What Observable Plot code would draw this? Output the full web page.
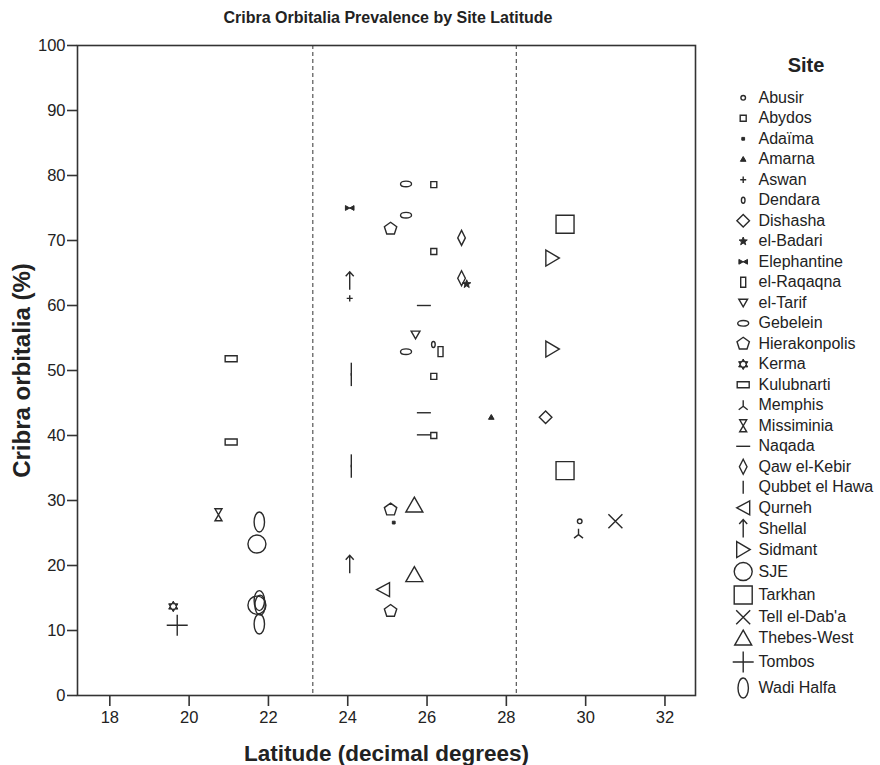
<!DOCTYPE html>
<html>
<head>
<meta charset="utf-8">
<script src="https://cdn.jsdelivr.net/npm/d3@7"></script>
<script src="https://cdn.jsdelivr.net/npm/@observablehq/plot@0.6"></script>
<style>
  body { margin: 0; background: #fff; }
  #wrap { position: relative; width: 880px; height: 765px; overflow: hidden; font-family: "Liberation Sans", Arial, sans-serif; color: #222; }
  #chart { position: absolute; left: 0; top: 0; }
  #legend { position: absolute; left: 700px; top: 0; }
  #title { position: absolute; left: 0; top: 8px; width: 776px; text-align: center; font-weight: bold; font-size: 16px; line-height: 20px; }
</style>
</head>
<body>
<div id="wrap">
  <div id="chart"></div>
  <div id="legend"></div>
  <div id="title">Cribra Orbitalia Prevalence by Site Latitude</div>
</div>
<script>
// Sites in legend order
const sites = ["Abusir", "Abydos", "Adaïma", "Amarna", "Aswan", "Dendara", "Dishasha", "el-Badari",
  "Elephantine", "el-Raqaqna", "el-Tarif", "Gebelein", "Hierakonpolis", "Kerma", "Kulubnarti",
  "Memphis", "Missiminia", "Naqada", "Qaw el-Kebir", "Qubbet el Hawa", "Qurneh", "Shellal",
  "Sidmant", "SJE", "Tarkhan", "Tell el-Dab'a", "Thebes-West", "Tombos", "Wadi Halfa"];

// One entry per sample: site, latitude (decimal degrees), cribra orbitalia prevalence (%)
const obsSite = [
  "Abusir",
  "Abydos", "Abydos", "Abydos", "Abydos",
  "Adaïma", "Amarna", "Aswan", "Dendara", "Dishasha", "el-Badari", "Elephantine", "el-Raqaqna", "el-Tarif",
  "Gebelein", "Gebelein", "Gebelein",
  "Hierakonpolis", "Hierakonpolis", "Hierakonpolis",
  "Kerma",
  "Kulubnarti", "Kulubnarti",
  "Memphis", "Missiminia",
  "Naqada", "Naqada", "Naqada",
  "Qaw el-Kebir", "Qaw el-Kebir",
  "Qubbet el Hawa", "Qubbet el Hawa", "Qubbet el Hawa", "Qubbet el Hawa",
  "Qurneh",
  "Shellal", "Shellal",
  "Sidmant", "Sidmant",
  "SJE", "SJE",
  "Tarkhan", "Tarkhan",
  "Tell el-Dab'a",
  "Thebes-West", "Thebes-West",
  "Tombos",
  "Wadi Halfa", "Wadi Halfa", "Wadi Halfa", "Wadi Halfa"
];
const obsLatitude = [
  29.85,
  26.17, 26.17, 26.17, 26.17,
  25.16, 27.62, 24.05, 26.16, 28.99, 27.0, 24.05, 26.34, 25.71,
  25.47, 25.47, 25.47,
  25.08, 25.08, 25.08,
  19.6,
  21.06, 21.06,
  29.82, 20.74,
  25.92, 25.92, 25.92,
  26.87, 26.87,
  24.09, 24.09, 24.09, 24.09,
  24.89,
  24.05, 24.05,
  29.16, 29.16,
  21.71, 21.71,
  29.48, 29.48,
  30.75,
  25.68, 25.68,
  19.7,
  21.77, 21.77, 21.79, 21.77
];
const obsPrevalence = [
  26.8,
  78.6, 68.3, 49.1, 40.0,
  26.6, 42.8, 61.1, 54.0, 42.8, 63.3, 75.0, 52.9, 55.5,
  78.7, 73.9, 52.9,
  71.8, 28.6, 13.0,
  13.7,
  51.8, 39.0,
  24.9, 27.8,
  60.0, 43.5, 40.1,
  70.4, 64.2,
  50.2, 48.6, 36.1, 34.5,
  16.3,
  63.8, 20.2,
  67.3, 53.3,
  23.3, 13.9,
  72.5, 34.6,
  26.8,
  29.3, 18.6,
  10.8,
  26.7, 14.6, 13.9, 11.0
];

// Reference lines on the latitude axis
const dividers = [23.12, 28.25];
const xTicks = [18, 20, 22, 24, 26, 28, 30, 32];
const yTicks = [0, 10, 20, 30, 40, 50, 60, 70, 80, 90, 100];

// ---- marker shapes (d3 symbol-type objects, drawn in pixels around 0,0) ----
const K = 0.5523;
function ellipse(c, rx, ry) {
  c.moveTo(rx, 0);
  c.bezierCurveTo(rx, ry * K, rx * K, ry, 0, ry);
  c.bezierCurveTo(-rx * K, ry, -rx, ry * K, -rx, 0);
  c.bezierCurveTo(-rx, -ry * K, -rx * K, -ry, 0, -ry);
  c.bezierCurveTo(rx * K, -ry, rx, -ry * K, rx, 0);
  c.closePath();
}
function poly(c, pts) {
  c.moveTo(pts[0][0], pts[0][1]);
  for (const [x, y] of pts.slice(1)) c.lineTo(x, y);
  c.closePath();
}
function seg(c, x0, y0, x1, y1) { c.moveTo(x0, y0); c.lineTo(x1, y1); }
function star(n, ro, ri) {
  const pts = [];
  for (let i = 0; i < 2 * n; i++) {
    const a = -Math.PI / 2 + i * Math.PI / n, r = i % 2 ? ri : ro;
    pts.push([r * Math.cos(a), r * Math.sin(a)]);
  }
  return pts;
}
function ngon(n, r) {
  const pts = [];
  for (let i = 0; i < n; i++) {
    const a = -Math.PI / 2 + i * 2 * Math.PI / n;
    pts.push([r * Math.cos(a), r * Math.sin(a)]);
  }
  return pts;
}
// h: vertical extent in px (sets the legend row height); solid: drawn filled
const shape = (h, draw, solid = false) => ({h, solid, draw: (c) => draw(c)});

const shapes = {
  "Abusir": shape(5, c => { c.moveTo(2.3, 0); c.arc(0, 0, 2.3, 0, 2 * Math.PI); }),
  "Abydos": shape(6, c => c.rect(-3, -3, 6, 6)),
  "Adaïma": shape(3, c => c.rect(-1.4, -1.4, 2.8, 2.8), true),
  "Amarna": shape(5, c => poly(c, [[0, -2.8], [2.8, 2], [-2.8, 2]]), true),
  "Aswan": shape(6, c => { seg(c, -3, 0, 3, 0); seg(c, 0, -3.2, 0, 3.2); }),
  "Dendara": shape(6, c => ellipse(c, 1.8, 3)),
  "Dishasha": shape(13, c => poly(c, [[0, -6.3], [6.3, 0], [0, 6.3], [-6.3, 0]])),
  "el-Badari": shape(8, c => poly(c, star(5, 4.3, 1.8)), true),
  "Elephantine": shape(5, c => poly(c, [[-4.3, -2.4], [4.3, 2.4], [4.3, -2.4], [-4.3, 2.4]]), true),
  "el-Raqaqna": shape(10, c => c.rect(-2.5, -5, 5, 10)),
  "el-Tarif": shape(8, c => poly(c, [[-4.4, -3.6], [4.4, -3.6], [0, 4]])),
  "Gebelein": shape(6, c => ellipse(c, 5.5, 2.8)),
  "Hierakonpolis": shape(13, c => poly(c, ngon(5, 6.5))),
  "Kerma": shape(11, c => { poly(c, ngon(3, 5.3)); poly(c, ngon(3, 5.3).map(([x, y]) => [x, -y])); }, true),
  "Kulubnarti": shape(6, c => c.rect(-6, -3, 12, 6)),
  "Memphis": shape(10, c => { seg(c, 0, -5, 0, 1); seg(c, 0, 1, -4.5, 4.5); seg(c, 0, 1, 4.5, 4.5); }),
  "Missiminia": shape(12, c => poly(c, [[-3.5, -6], [3.5, -6], [-3.5, 6], [3.5, 6]])),
  "Naqada": shape(2, c => seg(c, -7, 0, 7, 0)),
  "Qaw el-Kebir": shape(15, c => poly(c, [[0, -7.5], [3.8, 0], [0, 7.5], [-3.8, 0]])),
  "Qubbet el Hawa": shape(13, c => seg(c, 0, -6.5, 0, 6.5)),
  "Qurneh": shape(14, c => poly(c, [[-6.5, 0], [6.5, -7], [6.5, 7]])),
  "Shellal": shape(16, c => { seg(c, 0, 9, 0, -8.5); c.moveTo(-4, -4.5); c.lineTo(0, -9); c.lineTo(4, -4.5); }),
  "Sidmant": shape(16, c => poly(c, [[-6.5, -8], [7, 0], [-6.5, 8]])),
  "SJE": shape(18, c => { c.moveTo(9, 0); c.arc(0, 0, 9, 0, 2 * Math.PI); }),
  "Tarkhan": shape(19, c => c.rect(-9, -9, 18, 18)),
  "Tell el-Dab'a": shape(14, c => { seg(c, -7, -7, 7, 7); seg(c, -7, 7, 7, -7); }),
  "Thebes-West": shape(16, c => poly(c, [[0, -8], [8.5, 7], [-8.5, 7]])),
  "Tombos": shape(22, c => { seg(c, -10.5, 0, 10.5, 0); seg(c, 0, -10.5, 0, 10.5); }),
  "Wadi Halfa": shape(20, c => ellipse(c, 5.2, 10))
};

const font = '"Liberation Sans", Arial, sans-serif';
const ink = "#2a2a2a";
const symbolScale = {domain: sites, range: sites.map((s) => shapes[s])};
const isSolid = (d) => shapes[d.site].solid;

const obs = obsSite.map((site, i) => ({site, latitude: obsLatitude[i], prevalence: obsPrevalence[i]}));

const chart = Plot.plot({
  width: 705,
  height: 765,
  marginTop: 45,
  marginBottom: 70,
  marginLeft: 77,
  marginRight: 10,
  style: {fontFamily: font, color: "#222", background: "transparent", overflow: "visible"},
  x: {domain: [17.185, 32.77]},
  y: {domain: [0, 100]},
  symbol: symbolScale,
  marks: [
    Plot.ruleX(dividers, {stroke: "#333", strokeWidth: 1, strokeDasharray: "4,3"}),
    Plot.axisX({ticks: xTicks, tickSize: 11, tickPadding: 5, label: null, fontSize: 16.5, stroke: "#333", strokeWidth: 1.6}),
    Plot.axisY({ticks: yTicks, tickSize: 10, tickPadding: 2, label: null, fontSize: 16.5, stroke: "#333", strokeWidth: 1.6}),
    Plot.frame({stroke: "#333", strokeWidth: 1.6}),
    Plot.dot(obs, {filter: (d) => !isSolid(d), x: "latitude", y: "prevalence", symbol: "site", fill: "none", stroke: ink, strokeWidth: 1.4}),
    Plot.dot(obs, {filter: isSolid, x: "latitude", y: "prevalence", symbol: "site", fill: ink, stroke: ink, strokeWidth: 1}),
    Plot.text(["Latitude (decimal degrees)"], {text: (d) => d, frameAnchor: "bottom", dy: 58, textAnchor: "middle", lineAnchor: "middle", fontWeight: "bold", fontSize: 22.5}),
    Plot.text(["Cribra orbitalia (%)"], {text: (d) => d, frameAnchor: "left", dx: -55, rotate: -90, textAnchor: "middle", lineAnchor: "middle", fontWeight: "bold", fontSize: 24})
  ]
});
document.getElementById("chart").append(chart);

// Legend rows: each row is at least one text line tall, taller for large markers
const rowHeight = sites.map((s) => Math.max(20.5, shapes[s].h + 5));
const rowCenter = [];
sites.forEach((s, i) => {
  rowCenter.push(i === 0 ? 97.3 : rowCenter[i - 1] + (rowHeight[i - 1] + rowHeight[i]) / 2);
});
const legendRows = sites.map((site, i) => ({site, cy: rowCenter[i], solid: shapes[site].solid}));

const legend = Plot.plot({
  width: 180,
  height: 765,
  margin: 0,
  style: {fontFamily: font, color: "#222", background: "transparent", overflow: "visible"},
  x: {type: "identity", axis: null},
  y: {type: "identity", axis: null},
  symbol: symbolScale,
  marks: [
    Plot.text(["Site"], {text: (d) => d, x: 105.5, y: 65, fontWeight: "bold", fontSize: 20, lineAnchor: "middle"}),
    Plot.dot(legendRows, {filter: (d) => !d.solid, x: 42.7, y: "cy", symbol: "site", fill: "none", stroke: ink, strokeWidth: 1.4}),
    Plot.dot(legendRows, {filter: (d) => d.solid, x: 42.7, y: "cy", symbol: "site", fill: ink, stroke: ink, strokeWidth: 1}),
    Plot.text(legendRows, {x: 58, y: "cy", text: "site", textAnchor: "start", lineAnchor: "middle", fontSize: 16})
  ]
});
document.getElementById("legend").append(legend);
</script>
</body>
</html>
